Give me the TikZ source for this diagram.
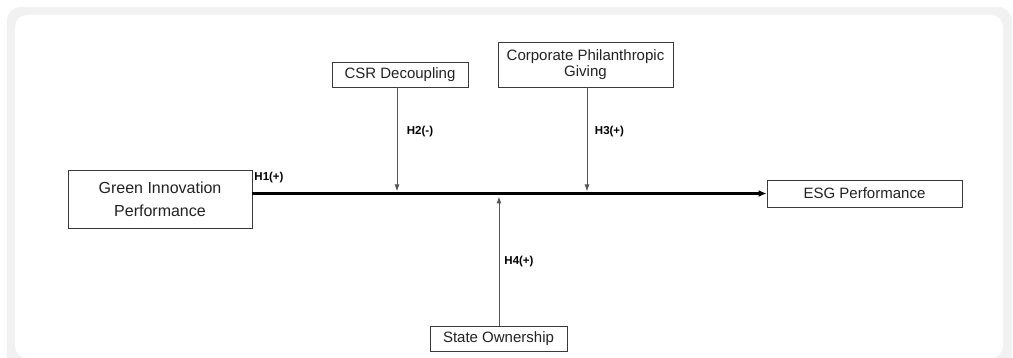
\documentclass[tikz,border=0pt]{standalone}
\usepackage{fontspec}
\setmainfont{Liberation Sans}
\usetikzlibrary{arrows.meta}
\definecolor{framegray}{HTML}{F1F1F1}
\definecolor{boxline}{HTML}{3A3A3A}
\definecolor{arrowgray}{HTML}{555555}
\definecolor{textgray}{HTML}{222222}
\tikzset{
	var/.style={draw=boxline, line width=0.9pt, inner sep=0pt, align=center, text=textgray, font=\fontsize{15}{15.5}\selectfont},
	hyp/.style={font=\fontsize{11.5}{12}\selectfont\bfseries, inner sep=0pt},
	effect/.style={draw=arrowgray, line width=1pt, -{Latex[length=7pt, width=5pt]}}
}
\begin{document}
\begin{tikzpicture}[x=1pt, y=-1pt]
	\useasboundingbox (0,0) rectangle (1013,358);
	\clip (0,0) rectangle (1013,358);
	\fill[framegray, rounded corners=14] (7,7) rectangle (1012,375);
	\fill[white, rounded corners=12] (15,15) rectangle (1003,358);

	\node[var, minimum width=184, minimum height=58, font=\fontsize{16}{23}\selectfont] (gi) at (160,199) {Green Innovation\\Performance};
	\node[var, minimum width=195, minimum height=27] (esg) at (864.5,193.5) {ESG Performance};
	\node[var, minimum width=136, minimum height=25] (csr) at (400,74.5) {CSR Decoupling};
	\node[var, minimum width=175, minimum height=45] (cpg) at (585.5,64.5) {Corporate Philanthropic\\Giving};
	\node[var, minimum width=137, minimum height=25] (so) at (498.5,338.5) {State Ownership};

	\coordinate (m2) at (397,191.5);
	\coordinate (m3) at (587,191.5);
	\coordinate (m4) at (499,196.5);

	\draw[line width=2.4pt, -{Latex[length=8pt, width=7pt]}] (gi.east |- esg.west) -- (esg.west);
	\draw[effect] (csr.south -| m2) -- (m2);
	\draw[effect] (cpg.south -| m3) -- (m3);
	\draw[effect] (so.north -| m4) -- (m4);

	\node[hyp] (h1) at (269,178) {H1(+)};
	\node[hyp] (h2) at (420,132) {H2(-)};
	\node[hyp] (h3) at (609.5,132) {H3(+)};
	\node[hyp] (h4) at (519,262) {H4(+)};
\end{tikzpicture}
\end{document}
